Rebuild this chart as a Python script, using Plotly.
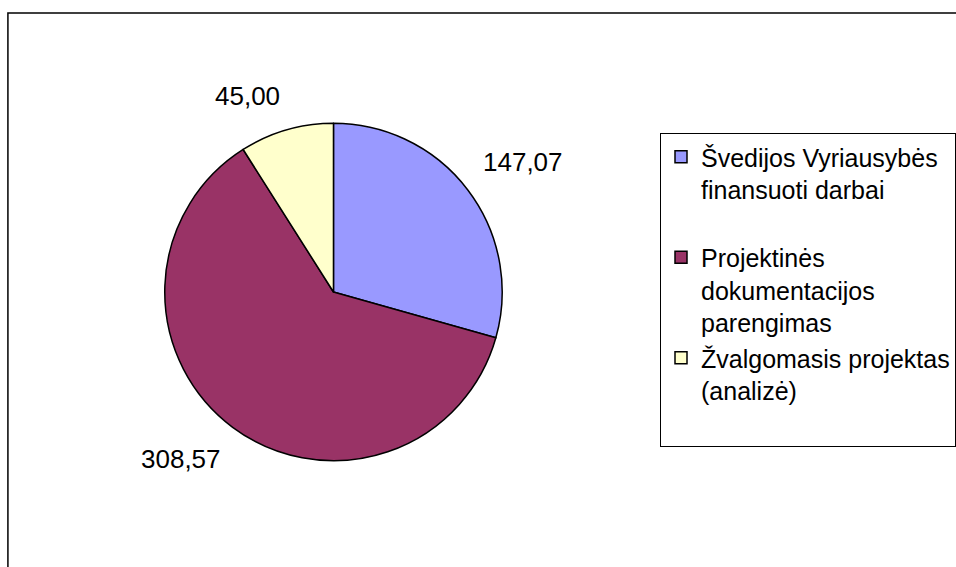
import math
import plotly.graph_objects as go

categories = [
    "Švedijos Vyriausybės<br>finansuoti darbai<br> ",
    "Projektinės<br>dokumentacijos<br>parengimas",
    "Žvalgomasis projektas<br>(analizė)<br> ",
]
values = [147.07, 308.57, 45.00]
colors = ["#9999FF", "#993366", "#FFFFCC"]

W, H = 956, 567
FONT = "Liberation Sans, Arial, sans-serif"

# pie geometry (pixels)
cx_px, cy_px, r_px = 337, 292, 170.5
dom_x = [(cx_px - r_px) / W, (cx_px + r_px) / W]
dom_y = [1 - (cy_px + r_px) / H, 1 - (cy_px - r_px) / H]

fig = go.Figure()
fig.add_trace(go.Pie(
    labels=categories,
    values=values,
    sort=False,
    direction="clockwise",
    rotation=0,
    textinfo="none",
    hoverinfo="label+value",
    marker=dict(colors=colors, line=dict(color="black", width=1.5)),
    domain=dict(x=dom_x, y=dom_y),
))

# data labels, positioned from the slice mid-angles
total = sum(values)
cum = 0.0
annotations = []
gap = 16
for v in values:
    mid = (cum + v / 2) / total
    cum += v
    th = 2 * math.pi * mid
    dx, dy = math.sin(th), math.cos(th)
    px = cx_px + (r_px + gap) * dx
    py = (H - cy_px) + (r_px + gap) * dy
    annotations.append(dict(
        x=px / W, y=py / H, xref="paper", yref="paper",
        text=f"{v:.2f}".replace(".", ","), showarrow=False,
        xanchor="left" if dx > 0 else "right",
        yanchor="bottom" if dy > 0 else "top",
        font=dict(family=FONT, size=26, color="black"),
    ))

fig.update_layout(
    width=W, height=H,
    autosize=False,
    margin=dict(l=0, r=0, t=0, b=0),
    paper_bgcolor="white",
    plot_bgcolor="white",
    font=dict(family=FONT, size=25, color="black"),
    separators=", ",
    annotations=annotations,
    showlegend=True,
    legend=dict(
        x=667 / W, y=1 - 133 / H, xanchor="left", yanchor="top",
        bgcolor="white", bordercolor="black", borderwidth=1,
        font=dict(family=FONT, size=25, color="black"),
        valign="top", traceorder="normal",
    ),
    shapes=[dict(
        type="rect", xref="paper", yref="paper",
        x0=8 / W, x1=1.05, y0=-0.05, y1=1 - 13 / H,
        line=dict(color="black", width=1.5), fillcolor="rgba(0,0,0,0)",
        layer="below",
    )],
)

fig.write_html(
    "out.html",
    config={"responsive": False, "displayModeBar": False},
    post_script="document.body.style.margin='0';document.body.style.overflow='hidden';",
)
